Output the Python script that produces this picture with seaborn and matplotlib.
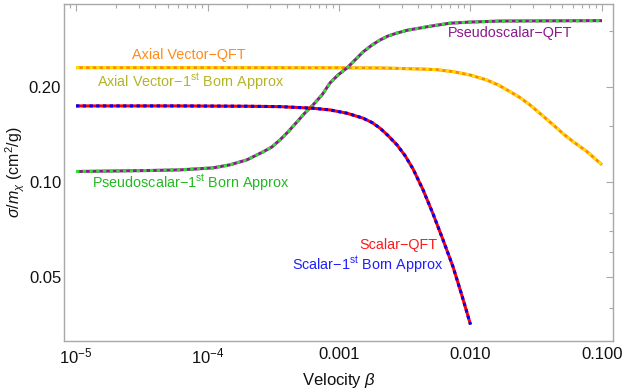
import numpy as np
import pandas as pd
import matplotlib
matplotlib.use("Agg")
import matplotlib.pyplot as plt
import seaborn as sns
from matplotlib.ticker import FixedLocator, FixedFormatter, NullFormatter, LogLocator

# ---- data ----
beta_axial = [1e-5, 1e-4, 1e-3, 2.05e-3, 4.13e-3, 5.534e-3, 7.398e-3, 9.913e-3, 1.328e-2,
              1.627e-2, 1.998e-2, 2.379e-2, 2.835e-2, 3.478e-2, 4.263e-2, 5.077e-2,
              6.050e-2, 7.651e-2, 0.1]
sigma_axial = [0.2301, 0.2301, 0.2299, 0.2296, 0.2279, 0.2268, 0.2235, 0.2182, 0.2104,
               0.2029, 0.1933, 0.1851, 0.1755, 0.1632, 0.1517, 0.1422,
               0.1342, 0.1252, 0.1135]

beta_pseudo = [1e-5, 3.66e-5, 6.18e-5, 8.32e-5, 1.101e-4, 1.483e-4, 1.997e-4, 2.643e-4,
               3.094e-4, 3.558e-4, 4.094e-4, 4.793e-4, 5.513e-4, 6.343e-4, 7.424e-4,
               8.544e-4, 9.826e-4, 1.150e-3, 1.323e-3, 1.522e-3, 1.782e-3, 2.050e-3,
               2.359e-3, 2.761e-3, 3.346e-3, 4.130e-3, 4.92e-3, 6.98e-3, 9.91e-3,
               1.675e-2, 0.1]
sigma_pseudo = [0.1081, 0.1089, 0.1094, 0.1102, 0.1110, 0.1135, 0.1177, 0.1247,
                0.1293, 0.1361, 0.1442, 0.1551, 0.1656, 0.1755, 0.1887,
                0.2059, 0.2182, 0.2296, 0.2433, 0.2579, 0.2713, 0.2814,
                0.2897, 0.2960, 0.3025, 0.3070, 0.3110, 0.3180, 0.3206,
                0.3230, 0.3240]

beta_scalar = [1e-5, 6.18e-5, 1.997e-4, 3.558e-4, 6.343e-4, 8.544e-4, 1.150e-3, 1.522e-3,
               1.782e-3, 2.050e-3, 2.359e-3, 2.761e-3, 3.176e-3, 3.653e-3, 4.352e-3,
               5.185e-3, 6.177e-3, 7.359e-3, 8.616e-3, 0.01]
sigma_scalar = [0.1742, 0.1742, 0.1738, 0.1733, 0.1713, 0.1692, 0.1652, 0.1594,
                0.1544, 0.1482, 0.1404, 0.1312, 0.1214, 0.1102, 0.0947,
                0.0795, 0.0658, 0.0541, 0.0438, 0.0355]

x_ticks = [1e-5, 1e-4, 1e-3, 1e-2, 1e-1]
x_tick_labels = ["$10^{-5}$", "$10^{-4}$", "0.001", "0.010", "0.100"]
y_ticks = [0.05, 0.10, 0.20]
y_tick_labels = ["0.05", "0.10", "0.20"]
y_minor = [0.04, 0.06, 0.07, 0.08, 0.15, 0.3]

# ---- style ----
sns.set_theme(style="white")
plt.rcParams["font.family"] = ["Liberation Sans", "DejaVu Sans"]
plt.rcParams["mathtext.fontset"] = "custom"
plt.rcParams["mathtext.rm"] = "Liberation Sans"
plt.rcParams["mathtext.it"] = "Liberation Sans:italic"
plt.rcParams["mathtext.bf"] = "Liberation Sans:bold"

fig = plt.figure(figsize=(6.23, 3.89), dpi=100)
ax = fig.add_axes([64/623, 1-341/389, (613-64)/623, (341-3.5)/389])

lw = 2.2
dash = (0, (1.1, 1.1))

def draw(b, s, base, top):
    df = pd.DataFrame({"beta": b, "sigma": s})
    sns.lineplot(data=df, x="beta", y="sigma", ax=ax, color=base, lw=lw,
                 solid_capstyle="butt", solid_joinstyle="round", sort=False)
    sns.lineplot(data=df, x="beta", y="sigma", ax=ax, color=top, lw=lw,
                 linestyle=dash, dash_capstyle="butt", sort=False)

draw(beta_axial, sigma_axial, "#FF8C00", "#FFE000")
draw(beta_pseudo, sigma_pseudo, "#8B1A8B", "#33DD33")
draw(beta_scalar, sigma_scalar, "#FF0000", "#0000FF")

ax.set_xscale("log")
ax.set_yscale("log")
ax.set_xlim(8.1e-6, 0.1213)
ax.set_ylim(0.0315, 0.367)

ax.xaxis.set_major_locator(FixedLocator(x_ticks))
ax.xaxis.set_major_formatter(FixedFormatter(x_tick_labels))
ax.xaxis.set_minor_locator(LogLocator(base=10, subs=np.arange(2, 10)))
ax.xaxis.set_minor_formatter(NullFormatter())
ax.yaxis.set_major_locator(FixedLocator(y_ticks))
ax.yaxis.set_major_formatter(FixedFormatter(y_tick_labels))
ax.yaxis.set_minor_locator(FixedLocator(y_minor))
ax.yaxis.set_minor_formatter(NullFormatter())

frame = "#A8A8A8"
for sp in ax.spines.values():
    sp.set_color(frame)
    sp.set_linewidth(1.0)
ax.tick_params(which="both", direction="in", top=True, right=True, color=frame,
               labelsize=12, labelcolor="#111111", width=0.8)
ax.tick_params(which="major", length=5)
ax.tick_params(which="minor", length=2.8)
ax.tick_params(axis="x", which="major", pad=4)
ax.tick_params(axis="y", which="major", pad=2)

ax.set_xlabel(r"Velocity $\beta$", fontsize=12, color="#111111", labelpad=3)
ax.set_ylabel(r"$\sigma/m_\chi$ (cm$^2$/g)", fontsize=11.5, color="#111111", labelpad=1)

fs = 10.4
ax.text(7.2e-5, 0.252, "Axial Vector\u2212QFT", color="#FF8C1A", fontsize=fs, ha="center", va="center")
ax.text(7.4e-5, 0.2075, "Axial Vector\u22121$^{\\mathrm{st}}$ Born Approx", color="#B4B42A",
        fontsize=fs, ha="center", va="center")
ax.text(7.4e-5, 0.0995, "Pseudoscalar\u22121$^{\\mathrm{st}}$ Born Approx", color="#22BB22",
        fontsize=fs, ha="center", va="center")
ax.text(0.0200, 0.296, "Pseudoscalar\u2212QFT", color="#8B1A8B", fontsize=fs, ha="center", va="center")
ax.text(2.81e-3, 0.0635, "Scalar\u2212QFT", color="#FF1A1A", fontsize=fs, ha="center", va="center")
ax.text(1.66e-3, 0.0549, "Scalar\u22121$^{\\mathrm{st}}$ Born Approx", color="#2020FF",
        fontsize=fs, ha="center", va="center")

fig.savefig("out.png", dpi=100)
